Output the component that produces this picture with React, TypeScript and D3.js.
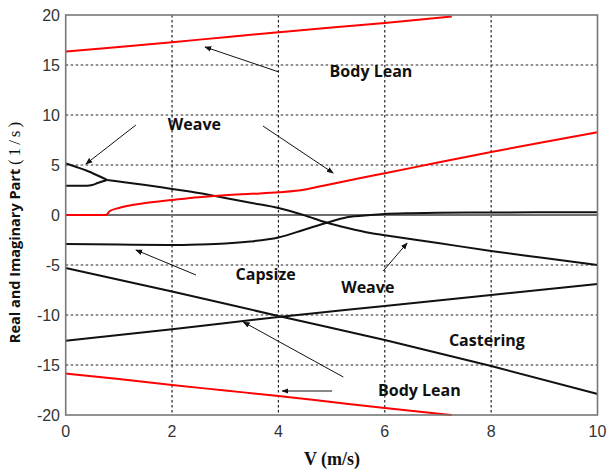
import React from 'react';
import * as d3 from 'd3';

type Pt = [number, number];

// speed V (m/s) and eigenvalue parts (1/s)
const bodyLeanUpper: Pt[] = [[0, 16.35], [1, 16.8], [2, 17.28], [3, 17.78], [4, 18.27], [5, 18.75], [6, 19.2], [7.26, 19.85]];
const bodyLeanLower: Pt[] = [[0, -15.85], [1, -16.4], [2, -17.0], [3, -17.55], [4, -18.1], [5, -18.7], [6, -19.3], [7.26, -20]];
const weaveImag: Pt[] = [[0, 0], [0.76, 0], [0.83, 0.4], [1, 0.7], [1.15, 0.9], [1.5, 1.2], [2, 1.5], [2.5, 1.78], [3, 1.98], [3.5, 2.12], [4, 2.27], [4.5, 2.55], [4.72, 2.8], [5, 3.1], [5.5, 3.65], [6, 4.17], [7, 5.25], [8, 6.3], [9, 7.3], [10, 8.27]];
const weaveUpper: Pt[] = [[0, 5.15], [0.2, 4.8], [0.4, 4.42], [0.6, 3.95], [0.78, 3.5]];
const weaveLower: Pt[] = [[0, 2.93], [0.4, 2.93], [0.5, 3.0], [0.6, 3.2], [0.7, 3.38], [0.78, 3.5]];
const weaveReal: Pt[] = [[0.78, 3.5], [1, 3.35], [1.5, 3.0], [2, 2.6], [2.5, 2.2], [3, 1.7], [3.5, 1.2], [4, 0.7], [4.47, 0], [4.9, -0.75], [5.3, -1.3], [5.73, -1.8], [6, -2.02], [7, -2.8], [8, -3.6], [9, -4.3], [10, -5.0]];
const capsize: Pt[] = [[0, -2.9], [1, -2.95], [2, -3.0], [2.5, -2.95], [3, -2.85], [3.47, -2.65], [4, -2.25], [4.47, -1.5], [4.91, -0.77], [5.29, -0.23], [5.73, 0], [6, 0.1], [6.5, 0.18], [7, 0.22], [8, 0.25], [10, 0.28]];
const castering: Pt[] = [[0, -5.3], [2, -7.65], [4, -10.1], [6, -12.5], [8, -15.1], [10, -17.9]];
const rollLine: Pt[] = [[0, -12.57], [2, -11.43], [4, -10.2], [6, -9.1], [8, -8.0], [10, -6.9]];

const xTicks = [0, 2, 4, 6, 8, 10];
const yTicks = [-20, -15, -10, -5, 0, 5, 10, 15, 20];

// annotation labels (centre x, baseline y) and arrows (from -> to), in data units
const labels: { text: string; x: number; y: number }[] = [
  { text: 'Body Lean', x: 5.74, y: 13.8 },
  { text: 'Weave', x: 2.42, y: 8.5 },
  { text: 'Capsize', x: 3.76, y: -6.5 },
  { text: 'Weave', x: 5.68, y: -7.83 },
  { text: 'Castering', x: 7.92, y: -13.1 },
  { text: 'Body Lean', x: 6.65, y: -18.07 },
];
const arrows: [Pt, Pt][] = [
  [[4.01, 14.3], [2.62, 16.8]],
  [[1.32, 9.0], [0.38, 5.1]],
  [[3.71, 8.9], [5.03, 4.2]],
  [[2.45, -6.0], [1.32, -3.5]],
  [[5.97, -5.6], [6.42, -2.8]],
  [[5.22, -16.2], [3.34, -10.7]],
  [[5.01, -17.6], [4.07, -17.6]],
];

const W = 607;
const H = 470;
const M = { left: 65.7, right: 9.5, top: 15, bottom: 55 };

export default function App() {
  const x = d3.scaleLinear().domain([0, 10]).range([M.left, W - M.right]);
  const y = d3.scaleLinear().domain([-20, 20]).range([H - M.bottom, M.top]);
  const line = d3.line<Pt>().x(d => x(d[0])).y(d => y(d[1])).curve(d3.curveMonotoneX);

  const black = [weaveUpper, weaveLower, weaveReal, capsize, castering, rollLine];
  const red = [bodyLeanUpper, bodyLeanLower, weaveImag];

  return (
    <svg width={W} height={H} style={{ position: 'absolute', left: 0, top: 0, background: '#fff' }}>
      <defs>
        <marker id="ah" viewBox="0 0 10 10" refX="9" refY="5" markerWidth="7" markerHeight="7" orient="auto" markerUnits="userSpaceOnUse">
          <path d="M0,1 L10,5 L0,9 z" fill="#111" />
        </marker>
      </defs>

      {/* grid */}
      <g stroke="#222" strokeWidth={1.2} strokeDasharray="2.5,2.5">
        {xTicks.slice(1, -1).map(t => (
          <line key={'gx' + t} x1={x(t)} x2={x(t)} y1={y(20)} y2={y(-20)} />
        ))}
        {yTicks.slice(1, -1).filter(t => t !== 0).map(t => (
          <line key={'gy' + t} x1={x(0)} x2={x(10)} y1={y(t)} y2={y(t)} />
        ))}
      </g>
      <line x1={x(0)} x2={x(10)} y1={y(0)} y2={y(0)} stroke="#6f6f6f" strokeWidth={2} />

      {/* curves */}
      <g fill="none" strokeWidth={2} strokeLinejoin="round">
        {black.map((d, i) => <path key={'b' + i} d={line(d) || ''} stroke="#111" />)}
        {red.map((d, i) => <path key={'r' + i} d={line(d) || ''} stroke="#ff0000" />)}
      </g>

      {/* frame */}
      <rect x={x(0)} y={y(20)} width={x(10) - x(0)} height={y(-20) - y(20)} fill="none" stroke="#777" strokeWidth={1.6} />

      {/* ticks labels */}
      <g fontFamily="'Liberation Sans', Arial, sans-serif" fontSize={16} fill="#333">
        {yTicks.map(t => (
          <text key={'yt' + t} x={60} y={y(t)} dy="0.36em" textAnchor="end">{t}</text>
        ))}
        {xTicks.map(t => (
          <text key={'xt' + t} x={x(t)} y={437} textAnchor="middle">{t}</text>
        ))}
      </g>

      {/* axis titles */}
      <text x={332} y={465} textAnchor="middle" fontFamily="'Liberation Serif', 'DejaVu Serif', serif" fontWeight="bold" fontSize={18} fill="#111">
        V (m/s)
      </text>
      <text transform="translate(20,231) rotate(-90)" textAnchor="middle" fill="#111">
        <tspan fontFamily="'Open Sans', sans-serif" fontWeight="bold" fontSize={14.5}>Real and Imaginary Part </tspan>
        <tspan fontFamily="'Liberation Serif', serif" fontSize={17} letterSpacing={3}>(1/s)</tspan>
      </text>

      {/* annotations */}
      <g stroke="#111" strokeWidth={1}>
        {arrows.map(([a, b], i) => (
          <line key={'a' + i} x1={x(a[0])} y1={y(a[1])} x2={x(b[0])} y2={y(b[1])} markerEnd="url(#ah)" />
        ))}
      </g>
      <g fontFamily="'Open Sans', sans-serif" fontWeight="bold" fontSize={16} fill="#111" textAnchor="middle">
        {labels.map((l, i) => (
          <text key={'l' + i} x={x(l.x)} y={y(l.y)}>{l.text}</text>
        ))}
      </g>
    </svg>
  );
}
